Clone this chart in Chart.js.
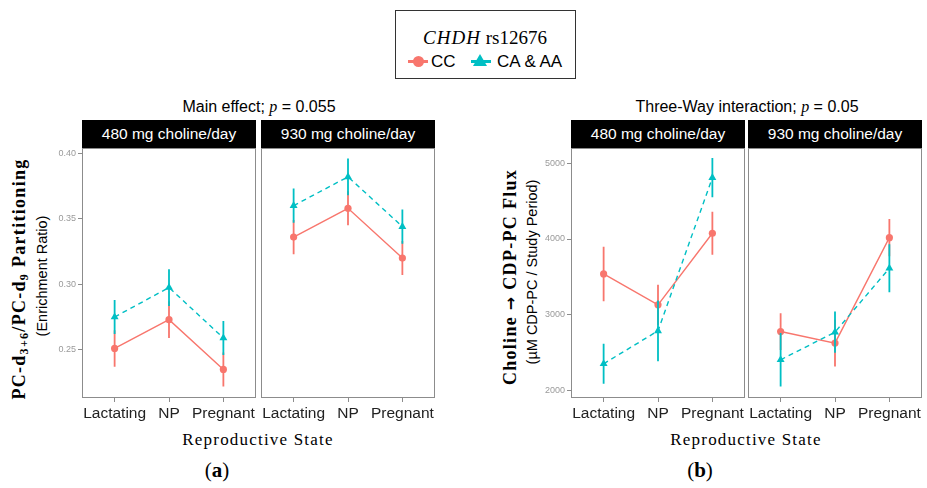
<!DOCTYPE html>
<html><head><meta charset="utf-8">
<script src="https://cdn.jsdelivr.net/npm/chart.js@4/dist/chart.umd.min.js"></script>
<style>
html,body{margin:0;padding:0;background:#fff;}
body{width:927px;height:488px;position:relative;overflow:hidden;font-family:"Liberation Sans",Arial,sans-serif;}
.abs{position:absolute;}
.c{transform:translate(-50%,-50%);white-space:nowrap;}
.strip{position:absolute;top:120px;height:28px;background:#000;color:#fff;font-size:15.5px;line-height:28px;text-align:center;}
.rot{position:absolute;transform:translate(-50%,-50%) rotate(-90deg);white-space:nowrap;}
.serifb{font-family:"Liberation Serif","Times New Roman",serif;font-weight:bold;font-size:18px;letter-spacing:1.3px;}
.sub{font-size:12px;vertical-align:-3px;}
.arrow{font-family:"DejaVu Sans",sans-serif;font-weight:bold;font-size:16px;}
canvas{position:absolute;}
</style></head>
<body>
<!-- legend -->
<div class="abs" style="left:395px;top:10px;width:179px;height:67px;border:1px solid #333;"></div>
<div class="abs c" style="left:485px;top:38px;font-family:'Liberation Serif',serif;font-size:19px;"><i style="letter-spacing:1px">CHDH</i> rs12676</div>
<div class="abs" style="left:408px;top:60px;width:20px;height:3px;background:#F8766D;"></div>
<div class="abs" style="left:413px;top:56px;width:11px;height:11px;border-radius:50%;background:#F8766D;"></div>
<div class="abs" style="left:431px;top:52px;font-size:17px;">CC</div>
<div class="abs" style="left:471px;top:60px;width:20px;height:3px;background:#00BFC4;"></div>
<div class="abs" style="left:473px;top:54px;width:14px;height:12px;background:#00BFC4;clip-path:polygon(50% 0,100% 100%,0 100%);"></div>
<div class="abs" style="left:497px;top:52px;font-size:17px;">CA &amp; AA</div>

<!-- panel titles -->
<div class="abs c" style="left:259px;top:107px;font-size:16px;">Main effect; <i style="font-family:'Liberation Serif',serif;">p</i> = 0.055</div>
<div class="abs c" style="left:747px;top:107px;font-size:16px;">Three-Way interaction; <i style="font-family:'Liberation Serif',serif;">p</i> = 0.05</div>

<!-- strips -->
<div class="strip" style="left:82px;width:174px;">480 mg choline/day</div>
<div class="strip" style="left:261px;width:174px;">930 mg choline/day</div>
<div class="strip" style="left:571px;width:174px;">480 mg choline/day</div>
<div class="strip" style="left:748px;width:174px;">930 mg choline/day</div>

<!-- y titles -->
<div class="rot serifb" style="left:20px;top:279px;">PC-d<span class="sub">3+6</span>/PC-d<span class="sub">9</span> Partitioning</div>
<div class="rot" style="left:42px;top:276px;font-size:14.5px;">(Enrichment Ratio)</div>
<div class="rot serifb" style="left:510px;top:277px;">Choline <span class="arrow">→</span> CDP-PC Flux</div>
<div class="rot" style="left:532px;top:272px;font-size:14.5px;">(µM CDP-PC / Study Period)</div>

<!-- x titles -->
<div class="abs c" style="left:258px;top:440px;font-family:'Liberation Serif',serif;font-size:17px;letter-spacing:1.2px;">Reproductive State</div>
<div class="abs c" style="left:746px;top:440px;font-family:'Liberation Serif',serif;font-size:17px;letter-spacing:1.2px;">Reproductive State</div>
<div class="abs c" style="left:217px;top:470px;font-family:'Liberation Serif',serif;font-size:21px;">(<b>a</b>)</div>
<div class="abs c" style="left:700px;top:470px;font-family:'Liberation Serif',serif;font-size:21px;">(<b>b</b>)</div>

<canvas id="a0" width="224" height="300" style="left:42px;top:138px;"></canvas>
<canvas id="a1" width="224" height="300" style="left:221px;top:138px;"></canvas>
<canvas id="b0" width="224" height="300" style="left:531px;top:138px;"></canvas>
<canvas id="b1" width="224" height="300" style="left:708px;top:138px;"></canvas>

<script>
// ---- data ----
const categories = ['Lactating', 'NP', 'Pregnant'];
const seriesNames = ['CC', 'CA & AA'];

// Panel (a): PC-d3+6/PC-d9 enrichment ratio
const ratioCC_480   = [0.251, 0.273, 0.235];
const ratioCCerr_480 = [0.014, 0.014, 0.013];
const ratioCA_480   = [0.275, 0.2975, 0.259];
const ratioCAerr_480 = [0.013, 0.014, 0.013];
const ratioCC_930   = [0.336, 0.358, 0.320];
const ratioCCerr_930 = [0.013, 0.013, 0.013];
const ratioCA_930   = [0.360, 0.382, 0.344];
const ratioCAerr_930 = [0.013, 0.014, 0.013];

// Panel (b): Choline -> CDP-PC flux
const fluxCC_480   = [3539, 3130, 4076];
const fluxCCerr_480 = [360, 265, 285];
const fluxCA_480   = [2352, 2787, 4810];
const fluxCAerr_480 = [265, 400, 260];
const fluxCC_930   = [2778, 2625, 4018];
const fluxCCerr_930 = [243, 308, 247];
const fluxCA_930   = [2405, 2770, 3614];
const fluxCAerr_930 = [352, 272, 316];

const ratioTicks = [0.25, 0.30, 0.35, 0.40];
const fluxTicks = [2000, 3000, 4000, 5000];

// ---- helpers ----
const COL_CC = '#F8766D', COL_CA = '#00BFC4';

function pts(vals) { return vals.map((v, i) => ({x: i, y: v})); }
function errSegs(vals, errs) {
  const out = [];
  vals.forEach((v, i) => {
    out.push({x: i, y: v - errs[i]});
    out.push({x: i, y: v + errs[i]});
    out.push({x: i, y: null});
  });
  return out;
}

const framePlugin = {
  id: 'frame',
  afterDraw(chart) {
    const a = chart.chartArea, ctx = chart.ctx;
    ctx.save();
    ctx.strokeStyle = '#8c8c8c';
    ctx.lineWidth = 1;
    ctx.strokeRect(a.left + 0.5, a.top + 0.5, a.right - a.left - 1, a.bottom - a.top - 1);
    ctx.restore();
  }
};

function makeFacet(id, cc, ccErr, ca, caErr, yMin, yMax, yTicks, showY, fmt) {
  new Chart(document.getElementById(id), {
    type: 'line',
    data: {
      datasets: [
        {label: seriesNames[0] + ' err', data: errSegs(cc, ccErr), borderColor: COL_CC, borderWidth: 1.8,
         pointRadius: 0, spanGaps: false, order: 4},
        {label: seriesNames[0], data: pts(cc), borderColor: COL_CC, backgroundColor: COL_CC, borderWidth: 1.4,
         pointStyle: 'circle', pointRadius: 3.6, pointBorderWidth: 0, order: 3},
        {label: seriesNames[1] + ' err', data: errSegs(ca, caErr), borderColor: COL_CA, borderWidth: 1.8,
         pointRadius: 0, spanGaps: false, order: 2},
        {label: seriesNames[1], data: pts(ca), borderColor: COL_CA, backgroundColor: COL_CA, borderWidth: 1.4,
         borderDash: [5, 4], pointStyle: 'triangle', pointRadius: 4.6, pointBorderWidth: 0, order: 1}
      ]
    },
    options: {
      responsive: false,
      animation: false,
      devicePixelRatio: 1,
      layout: {padding: {top: 10, right: 10, left: 0, bottom: 0}},
      plugins: {legend: {display: false}, tooltip: {enabled: false}},
      scales: {
        x: {
          type: 'linear', min: -0.6, max: 2.6,
          afterBuildTicks: (ax) => { ax.ticks = categories.map((c, i) => ({value: i})); },
          afterFit: (ax) => { ax.height = 40; },
          ticks: {callback: (v) => categories[v] ?? '', color: '#222', padding: 2,
                  font: {family: 'Liberation Sans', size: 15.5}, maxRotation: 0, autoSkip: false},
          grid: {drawOnChartArea: false, drawTicks: true, tickLength: 4, color: '#8c8c8c'},
          border: {display: false}
        },
        y: {
          type: 'linear', min: yMin, max: yMax,
          afterBuildTicks: (ax) => { ax.ticks = yTicks.map(v => ({value: v})); },
          afterFit: (ax) => { ax.width = 40; },
          ticks: {display: showY, callback: fmt, color: '#9a9a9a', padding: 2,
                  font: {family: 'Liberation Sans', size: 9}},
          grid: {drawOnChartArea: false, drawTicks: showY, tickLength: 4, color: '#8c8c8c'},
          border: {display: false}
        }
      }
    },
    plugins: [framePlugin]
  });
}

const fmtRatio = (v) => v.toFixed(2);
const fmtFlux = (v) => String(v);

makeFacet('a0', ratioCC_480, ratioCCerr_480, ratioCA_480, ratioCAerr_480, 0.2132, 0.404, ratioTicks, true, fmtRatio);
makeFacet('a1', ratioCC_930, ratioCCerr_930, ratioCA_930, ratioCAerr_930, 0.2132, 0.404, ratioTicks, false, fmtRatio);
makeFacet('b0', fluxCC_480, fluxCCerr_480, fluxCA_480, fluxCAerr_480, 1900, 5202, fluxTicks, true, fmtFlux);
makeFacet('b1', fluxCC_930, fluxCCerr_930, fluxCA_930, fluxCAerr_930, 1900, 5202, fluxTicks, false, fmtFlux);
</script>
</body></html>
